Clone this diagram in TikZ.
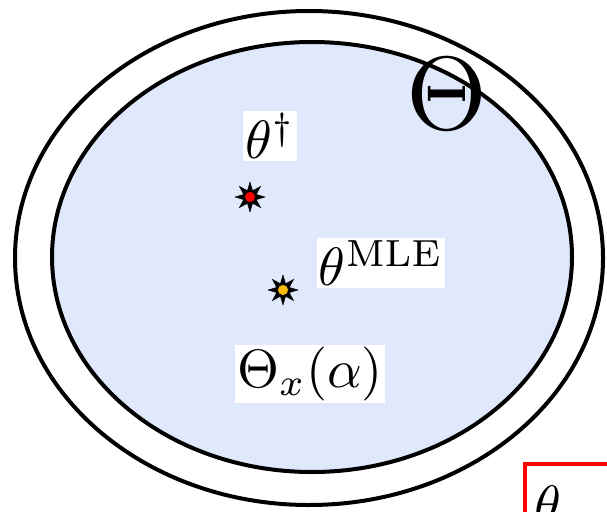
\documentclass[tikz,border=0pt]{standalone}
\usepackage{amsmath}
\usepackage{graphicx}
\usetikzlibrary{shapes.geometric,shapes.misc}
\definecolor{regionfill}{RGB}{224,232,252}
\definecolor{mleyellow}{RGB}{250,190,10}
\newcommand{\bigtxt}[1]{\scalebox{5.4}{#1}}
\begin{document}
\begin{tikzpicture}[x=1pt,y=-1pt,
  ring/.style={draw=black,line width=4pt},
  lbl/.style={fill=white,inner sep=2pt},
  starmark/.style={star,star points=8,star point ratio=2.2,fill=black,draw=black,minimum size=30pt,inner sep=0pt},
  dotc/.style={circle,draw=black,line width=0.6pt,minimum size=11pt,inner sep=0pt}]
\useasboundingbox (0,0) rectangle (607,511);
\fill[regionfill] (312,257) ellipse [x radius=260,y radius=215];
\node (bigT) at (447,94) {\scalebox{10.4}{$\Theta$}};
\draw[ring] (309,258) ellipse [x radius=294,y radius=247];
\draw[ring] (312,257) ellipse [x radius=260,y radius=215];
\node[lbl] (tdag) at (270,136) {\bigtxt{$\theta^{\dagger}$}};
\node[lbl] (tmle) at (381,263) {\bigtxt{$\theta^{\mathrm{MLE}}$}};
\node[lbl] (tx) at (310,374) {\bigtxt{$\Theta_x(\alpha)$}};
\node[starmark] (s1) at (250,197) {};
\node[dotc,fill=red] (d1) at (s1) {};
\node[starmark] (s2) at (283,290) {};
\node[dotc,fill=mleyellow] (d2) at (s2) {};
\node[draw=red,line width=4pt,minimum width=120pt,minimum height=100pt,anchor=north west,inner sep=0pt] (rb) at (523,462) {};
\node[anchor=north west,inner sep=0pt] (tb) at (534,486) {\bigtxt{$\theta$}};
\end{tikzpicture}
\end{document}
